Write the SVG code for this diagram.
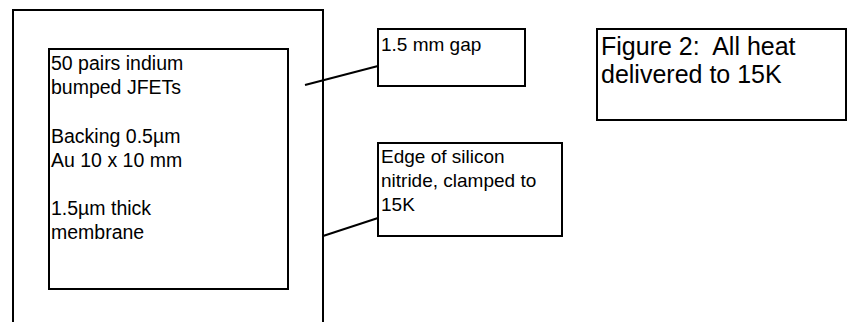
<svg xmlns="http://www.w3.org/2000/svg" width="848" height="322" viewBox="0 0 848 322">
<style>
.box{fill:#fff;stroke:#000;stroke-width:2}
.ln{stroke:#000;stroke-width:2;fill:none}
text{font-family:"Liberation Sans",Arial,sans-serif;fill:#000}
.t{font-size:19.5px}
.c{font-size:19px}
.f{font-size:25px}
</style>
<rect width="848" height="322" fill="#fff"/>
<g id="outer"><rect class="box" x="13" y="10" width="310" height="330"/></g>
<g id="membrane">
<rect class="box" x="49" y="49" width="239" height="240"/>
<text class="t" x="51" y="70">50 pairs indium</text>
<text class="t" x="51" y="94">bumped JFETs</text>
<text class="t" x="51" y="143">Backing 0.5µm</text>
<text class="t" x="51" y="167">Au 10 x 10 mm</text>
<text class="t" x="51" y="215">1.5µm thick</text>
<text class="t" x="51" y="239">membrane</text>
</g>
<g id="gap">
<rect class="box" x="378" y="29" width="147" height="57"/>
<text class="c" x="381" y="51">1.5 mm gap</text>
</g>
<g id="edge">
<rect class="box" x="378" y="143" width="184" height="93"/>
<text class="c" x="381" y="163">Edge of silicon</text>
<text class="c" x="381" y="187">nitride, clamped to</text>
<text class="c" x="381" y="211">15K</text>
</g>
<g id="figure">
<rect class="box" x="597" y="29" width="249" height="91"/>
<text class="f" x="601" y="55" xml:space="preserve">Figure 2:  All heat</text>
<text class="f" x="601" y="83">delivered to 15K</text>
</g>
<g id="connectors">
<line class="ln" x1="305" y1="85" x2="378" y2="66"/>
<line class="ln" x1="323" y1="236" x2="378" y2="218"/>
</g>
</svg>
